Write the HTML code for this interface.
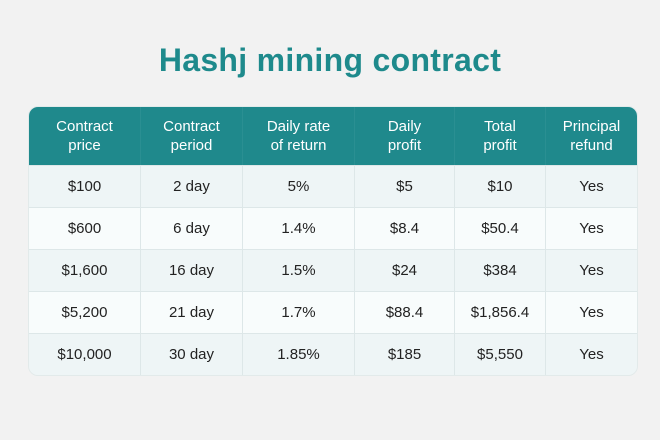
<!DOCTYPE html>
<html><head><style>
body{margin:0;width:660px;height:440px;background:#f2f2f2;font-family:"Liberation Sans",sans-serif;position:relative;overflow:hidden}
h1{position:absolute;top:42px;left:0;width:660px;margin:0;text-align:center;color:#1e8a8c;font-size:32px;font-weight:bold;letter-spacing:0.3px}
table{position:absolute;left:28px;top:106px;width:608px;border-collapse:separate;border-spacing:0;border-radius:10px;overflow:hidden;border:1px solid #e2eaea;table-layout:fixed}
th{background:#1f898c;color:#fff;font-weight:normal;font-size:15px;line-height:19px;height:58px;padding:0;border-right:1px solid #2a8f92}
td{height:41px;text-align:center;font-size:15px;color:#222;border-right:1px solid #dde7e8;border-top:1px solid #dde7e8;padding:0}
tr:nth-child(odd) td{background:#eef5f6}
tr:nth-child(even) td{background:#f8fcfc}
th:last-child,td:last-child{border-right:none}
</style></head><body>
<h1>Hashj mining contract</h1>
<table>
<colgroup><col style="width:112px"><col style="width:102px"><col style="width:112px"><col style="width:100px"><col style="width:91px"><col style="width:91px"></colgroup>
<thead><tr><th>Contract<br>price</th><th>Contract<br>period</th><th>Daily rate<br>of return</th><th>Daily<br>profit</th><th>Total<br>profit</th><th>Principal<br>refund</th></tr></thead>
<tbody>
<tr><td>$100</td><td>2 day</td><td>5%</td><td>$5</td><td>$10</td><td>Yes</td></tr>
<tr><td>$600</td><td>6 day</td><td>1.4%</td><td>$8.4</td><td>$50.4</td><td>Yes</td></tr>
<tr><td>$1,600</td><td>16 day</td><td>1.5%</td><td>$24</td><td>$384</td><td>Yes</td></tr>
<tr><td>$5,200</td><td>21 day</td><td>1.7%</td><td>$88.4</td><td>$1,856.4</td><td>Yes</td></tr>
<tr><td>$10,000</td><td>30 day</td><td>1.85%</td><td>$185</td><td>$5,550</td><td>Yes</td></tr>
</tbody></table>
</body></html>
